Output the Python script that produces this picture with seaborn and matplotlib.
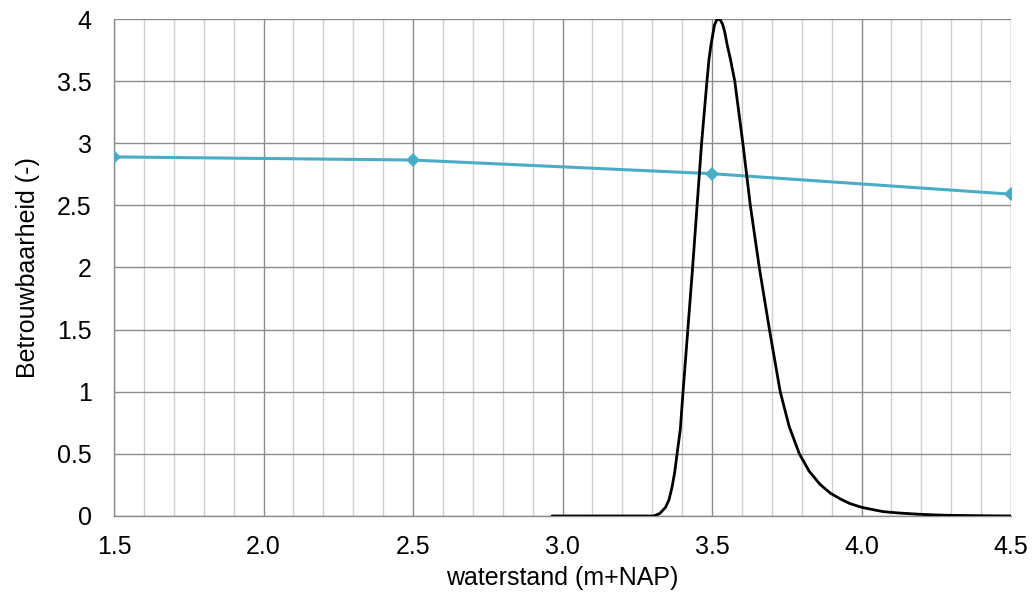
import numpy as np
import pandas as pd
import matplotlib
matplotlib.use("Agg")
import matplotlib.pyplot as plt
import seaborn as sns
from matplotlib.ticker import MultipleLocator, FormatStrFormatter, FuncFormatter

# betrouwbaarheid per waterstand
wl_beta = [1.5, 2.5, 3.5, 4.5]
beta = [2.89, 2.865, 2.755, 2.59]

wl_pdf = [2.965, 3.305, 3.325, 3.344, 3.356, 3.366, 3.375, 3.383, 3.394, 3.403,
          3.419, 3.435, 3.450, 3.465, 3.483, 3.490, 3.497, 3.508, 3.515, 3.520,
          3.528, 3.535, 3.542, 3.550, 3.562, 3.576, 3.603, 3.628, 3.658, 3.692,
          3.728, 3.758, 3.792, 3.825, 3.861, 3.895, 3.930, 3.961, 4.000, 4.040,
          4.073, 4.120, 4.184, 4.250, 4.300, 4.400, 4.500]
pdf = [0.0, 0.0, 0.02, 0.068, 0.13, 0.23, 0.35, 0.50, 0.70, 1.00,
       1.50, 2.00, 2.50, 3.00, 3.50, 3.68, 3.80, 3.95, 3.99, 4.00,
       3.99, 3.96, 3.90, 3.80, 3.67, 3.50, 3.00, 2.50, 2.00, 1.50,
       1.00, 0.72, 0.50, 0.36, 0.255, 0.185, 0.136, 0.10, 0.07, 0.05,
       0.035, 0.025, 0.015, 0.008, 0.005, 0.002, 0.0]

df_beta = pd.DataFrame({"waterstand": wl_beta, "beta": beta})
df_pdf = pd.DataFrame({"waterstand": wl_pdf, "pdf": pdf})

sns.set_style("white")
plt.rcParams["font.family"] = ["Liberation Sans", "DejaVu Sans"]

fig = plt.figure(figsize=(10.32, 5.92), dpi=100)
ax = fig.add_axes([0.1105, 0.1284, 0.8692, 0.8395])

sns.lineplot(data=df_beta, x="waterstand", y="beta", ax=ax, color="#4BACC6",
             linewidth=2.2, marker="D", markersize=7, markeredgewidth=0, zorder=3)
sns.lineplot(data=df_pdf, x="waterstand", y="pdf", ax=ax, color="black",
             linewidth=2.0, zorder=4)

ax.set_xlim(1.5, 4.5)
ax.set_ylim(0, 4)
ax.xaxis.set_major_locator(MultipleLocator(0.5))
ax.xaxis.set_minor_locator(MultipleLocator(0.1))
ax.yaxis.set_major_locator(MultipleLocator(0.5))
ax.xaxis.set_major_formatter(FormatStrFormatter("%.1f"))
ax.yaxis.set_major_formatter(FuncFormatter(lambda v, p: f"{v:g}"))

ax.grid(which="major", axis="both", color="#8c8c8c", linewidth=1.0)
ax.grid(which="minor", axis="x", color="#cfcfcf", linewidth=1.0)
ax.set_axisbelow(True)

for s in ["top", "right"]:
    ax.spines[s].set_visible(False)
for s in ["left", "bottom"]:
    ax.spines[s].set_color("#8c8c8c")
    ax.spines[s].set_linewidth(1.0)

ax.tick_params(axis="both", which="major", direction="out", width=1,
               color="#8c8c8c", labelsize=18, labelcolor="black")
ax.tick_params(axis="y", which="major", length=6, pad=10)
ax.tick_params(axis="x", which="major", length=5, pad=9)
ax.tick_params(axis="x", which="minor", length=0)

ax.set_xlabel("waterstand (m+NAP)", fontsize=18, color="black", labelpad=5)
ax.set_ylabel("Betrouwbaarheid (-)", fontsize=18, color="black", labelpad=12)

fig.savefig("out.png", dpi=100)
